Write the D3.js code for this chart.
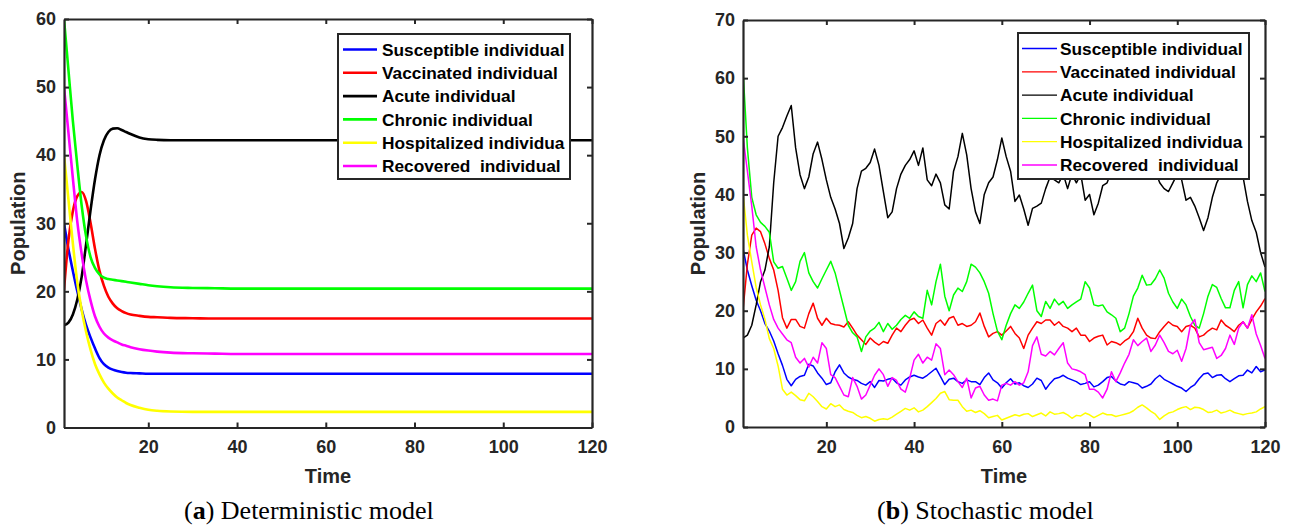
<!DOCTYPE html>
<html>
<head>
  <meta charset="utf-8">
  <title>Deterministic and stochastic model</title>
  <script src="https://d3js.org/d3.v7.min.js"></script>
  <style>
    body { margin: 0; background: #fff; }
    text { font-family: "Liberation Sans", Arial, sans-serif; fill: #262626; }
    .tick text { font-weight: bold; font-size: 18px; }
    .lab { font-weight: bold; font-size: 20px; }
    .leg { font-weight: bold; font-size: 17.3px; fill: #000; white-space: pre; }
    .cap { font-family: "Liberation Serif", "Times New Roman", serif; font-size: 26px; fill: #000; }
  </style>
</head>
<body>
<svg width="1289" height="525"></svg>
<script>
var names = ["Susceptible individual", "Vaccinated individual", "Acute individual",
             "Chronic individual", "Hospitalized individua", "Recovered  individual"];
var colors = ["#0000ff", "#ff0000", "#000000", "#00ff00", "#ffff00", "#ff00ff"];
var xTicks = [20, 40, 60, 80, 100, 120];
var yTicksA = [0, 10, 20, 30, 40, 50, 60];
var yTicksB = [0, 10, 20, 30, 40, 50, 60, 70];

// (a) deterministic model
var detT = [1, 2, 3, 4, 5, 6, 7, 8, 9, 10, 11, 12, 13, 14, 15, 16, 18, 20, 22, 25, 30, 35, 40, 50, 60, 80, 100, 120];
var detSus = [30, 26.2, 23, 20, 17.3, 15, 13.2, 11.6, 10.2, 9.3, 8.8, 8.5, 8.3, 8.15, 8.05, 8.0, 7.95, 7.9, 7.9, 7.9, 7.9, 7.9, 7.9, 7.9, 7.9, 7.9, 7.9, 7.9];
var detVac = [20.2, 27.5, 31.8, 34, 34.6, 33.2, 30, 26.2, 23, 20.8, 19.2, 18.2, 17.5, 17.1, 16.8, 16.6, 16.4, 16.25, 16.2, 16.1, 16.05, 16, 16, 16, 16, 16, 16, 16];
var detAcu = [15, 15.4, 16.6, 18.8, 22.2, 27, 32, 36.5, 40, 42.2, 43.4, 43.9, 43.95, 43.7, 43.4, 43.1, 42.6, 42.35, 42.25, 42.2, 42.2, 42.2, 42.2, 42.2, 42.2, 42.2, 42.2, 42.2];
var detChr = [60, 52.5, 45, 38.5, 32.5, 28, 25, 23.4, 22.5, 22, 21.8, 21.7, 21.6, 21.5, 21.4, 21.3, 21.1, 20.9, 20.75, 20.6, 20.5, 20.45, 20.4, 20.4, 20.4, 20.4, 20.4, 20.4];
var detHos = [40, 33.5, 27, 21.3, 17.2, 14, 11.4, 9.3, 7.8, 6.6, 5.7, 5.0, 4.4, 4.0, 3.6, 3.3, 2.9, 2.6, 2.45, 2.35, 2.3, 2.3, 2.3, 2.3, 2.3, 2.3, 2.3, 2.3];
var detRec = [50, 43.3, 36.6, 30.2, 25.4, 21.5, 18.6, 16.3, 14.8, 13.8, 13.2, 12.8, 12.5, 12.2, 12.0, 11.8, 11.5, 11.3, 11.15, 11.0, 10.9, 10.85, 10.8, 10.8, 10.8, 10.8, 10.8, 10.8];

// (b) stochastic model, one value per time step 1..120
var stT = d3.range(1, 121);
var stSus = [30.7, 27, 24.3, 21.8, 20, 17.8, 16.5, 14.8, 12.6, 10.6,
  8.2, 7.1, 8.2, 8.7, 8.9, 10.8, 10.5, 9.3, 8.4, 7.3,
  7.6, 9.5, 10.7, 9.3, 8.6, 8.2, 8, 7.5, 7.2, 7.8,
  6.8, 8, 7.9, 8.2, 8.4, 7.6, 7.2, 8.1, 8.6, 8.9,
  8.6, 8.4, 8.9, 9.5, 10.1, 8.7, 7.3, 8.2, 8.4, 7.8,
  7.5, 8.1, 7.8, 7.8, 7.3, 8.5, 9.3, 8.1, 7.6, 6.7,
  7.6, 8.3, 7.4, 7.6, 7.1, 6.8, 7.4, 8.4, 8, 6.5,
  7.5, 8.3, 8.5, 8.9, 8.4, 8.1, 7.8, 7.3, 7.5, 7.8,
  6.9, 7.2, 7.8, 8.5, 8.7, 7.9, 7.4, 7.2, 7.8, 7.6,
  7.4, 6.7, 7, 7.4, 8.3, 8.9, 8.2, 7.8, 7.4, 7,
  6.7, 6.1, 6.8, 7.3, 8.3, 9.1, 9.3, 8.5, 8.9, 9,
  8.3, 7.8, 8.3, 8.8, 8.9, 9.8, 9.3, 10.4, 9.5, 9.8];
var stVac = [20.1, 28, 33, 34.2, 33.6, 31.5, 29, 27, 23.5, 18.8,
  17, 18.5, 18.5, 17.3, 17, 19.5, 21.3, 18.7, 17.5, 18.7,
  17.8, 17.6, 17.5, 17.2, 18.1, 17, 15.8, 15, 14.2, 15.3,
  14.6, 14.1, 14.7, 14.4, 15.8, 17, 16.4, 17.5, 18.4, 18.7,
  17.8, 18.4, 17, 15.8, 17.8, 18.4, 17.5, 18.7, 19, 17.5,
  17.8, 17.3, 17.5, 18.1, 19.6, 17.3, 15.5, 16.1, 16.4, 15.8,
  16.5, 17.3, 16.1, 15.3, 13.5, 15.8, 17, 18.1, 17.8, 18.4,
  18.4, 17.5, 18.1, 17.3, 17, 16.4, 17, 15.8, 15.8, 14.7,
  15.3, 15.6, 15.8, 14.1, 14.7, 14.5, 14.1, 14.8, 15.3, 16.4,
  18.7, 17, 15.8, 15.3, 15.2, 16.4, 17.3, 18.1, 17.5, 17.3,
  16.4, 17.3, 17.5, 17, 15.5, 15.8, 16.5, 17, 16.7, 18.4,
  17.5, 17, 16.4, 17.5, 18.1, 17, 18.5, 19.8, 20.8, 22.1];
var stAcu = [15.3, 15.8, 17.5, 21, 25, 27, 31, 42, 50, 51.5,
  53.5, 55.3, 48, 43.4, 41, 43, 47, 49, 46, 42.5,
  39.5, 37.5, 35, 30.7, 32.5, 35, 41, 44, 44.5, 45.5,
  47.8, 45, 40.5, 36, 37, 41, 43.5, 45, 46, 47.5,
  45, 48, 42.5, 41.5, 43.5, 42, 38.2, 37.5, 44, 46.5,
  50.5, 46.8, 41, 37, 35, 40, 42, 43, 46, 49.7,
  46.5, 44, 38.8, 39.9, 37.5, 34.7, 37.6, 38, 38.5, 41,
  43, 42.5, 42, 43.5, 41, 43.5, 42, 43.5, 39, 40,
  36.5, 38.5, 41.5, 42, 44, 46, 47, 45.5, 47, 48,
  46, 47.5, 45, 46.5, 44, 42, 41, 40.5, 42, 43.5,
  42.5, 39, 39.5, 38, 36, 33.8, 36, 39.5, 42, 43.5,
  45, 46, 44.5, 45.5, 43, 38.8, 35.5, 33.5, 30, 27.5];
var stChr = [61.4, 48, 39.5, 36.5, 35.2, 34.5, 33.5, 28.4, 27.3, 27.6,
  25.6, 23.5, 25, 28.5, 30, 26.5, 25, 23.9, 25.5, 27,
  28.5, 26.5, 23.5, 20.5, 17.5, 16.2, 15.5, 13, 15.5, 16.5,
  17, 18, 16.4, 17.8, 16.8, 17.5, 18.5, 19.2, 18.7, 19.8,
  19, 18.7, 23.5, 21, 25, 28, 22.5, 20, 22.7, 23.9,
  23.3, 25, 28, 27.5, 26.5, 25, 23, 19.5, 16.5, 15,
  17.5, 19.5, 21, 20.4, 21.5, 23, 24.4, 20, 19, 21.6,
  20.4, 22, 21, 21.6, 20.4, 21, 21.5, 22, 25, 23.9,
  21, 20.8, 21, 19.8, 19.3, 18.7, 16.4, 17, 19.5, 22.5,
  23.9, 26.1, 24.4, 24.5, 25.5, 27, 25.6, 23, 21.5, 20.4,
  22, 21, 19, 17.5, 17, 19.5, 22.5, 24.5, 24, 22.1,
  20.5, 20.5, 23.5, 25, 20.5, 24.5, 26, 25, 26.5, 23.3];
var stHos = [40.2, 33, 28.4, 24, 21, 18.5, 15.2, 13.5, 10.5, 6.5,
  5.5, 6, 5.4, 4.7, 4.5, 5.8, 5.2, 4.4, 3.5, 3.1,
  4, 3.5, 3.8, 3, 2.7, 2.5, 2, 1.6, 1.8, 1.5,
  1, 1.3, 1.4, 1.3, 1.7, 2.2, 2.7, 3.2, 2.9, 3.3,
  2.6, 2.9, 3.5, 4.2, 4.9, 5.8, 6.1, 4.7, 4.6, 4.6,
  3.5, 2.7, 2.9, 2.5, 2.8, 2.3, 1.6, 1.8, 2, 1.2,
  1.5, 1.8, 2.1, 1.9, 2.2, 2.3, 1.8, 2.1, 2.4, 1.9,
  2.6, 2.2, 2.3, 2.5, 2.1, 1.5, 2, 1.9, 2.4, 2.1,
  1.6, 2, 2.4, 2.1, 2.1, 1.8, 2, 2.2, 2.4, 2.8,
  3.4, 3.8, 3.3, 2.7, 2.2, 1.3, 1.9, 2.4, 2.6, 3,
  3.3, 3.5, 3, 3.4, 3.3, 3, 2.5, 2.6, 2.9, 2.4,
  2.6, 2.9, 2.5, 2.3, 2.1, 2.3, 2.4, 2.6, 3.1, 3.5];
var stRec = [50, 44, 38, 31, 27, 24, 21, 18.5, 17, 16,
  15, 14.5, 12, 11, 11.8, 10.3, 12, 11, 14.5, 13.5,
  9, 8.5, 7, 5.5, 5.2, 8.5, 7, 4.8, 5.5, 7.2,
  8.9, 10, 9, 7, 8.5, 8, 6.5, 6, 8.4, 11.5,
  12.5, 11, 12, 11.5, 14.3, 13.5, 9, 9.8, 9, 7.8,
  6.8, 8.4, 5, 6.7, 7, 5.5, 4.6, 4.8, 4.5, 7.2,
  7.5, 7.2, 7.8, 7.2, 7.6, 9.5, 14, 15.5, 12.5, 12.2,
  13, 12.4, 13.5, 14.5, 11, 10, 9.8, 9.5, 9, 6.5,
  6.5, 6, 5, 6.5, 9.5, 7.8, 9.3, 11, 12.5, 15,
  14, 14.7, 15.3, 13, 14.1, 15.8, 14.5, 13, 12.6, 13.2,
  11.3, 13.5, 17.5, 18.5, 14.5, 13.3, 13.5, 13.7, 11.8, 12.3,
  13.5, 15.8, 14.2, 17, 18.1, 17, 19.3, 16, 14, 11.8];

var svg = d3.select("svg");
svg.append("rect").attr("width", 1289).attr("height", 525).attr("fill", "#fff");

function panel(o) {
  var x = d3.scaleLinear().domain([1, 120]).range([o.left, o.right]);
  var y = d3.scaleLinear().domain([0, o.ymax]).range([o.bottom, o.top]);
  var g = svg.append("g");

  g.append("clipPath").attr("id", "clip" + o.id)
    .append("rect").attr("x", o.left).attr("y", o.top)
    .attr("width", o.right - o.left).attr("height", o.bottom - o.top);

  var line = d3.line()
    .x(function(d) { return x(d[0]); })
    .y(function(d) { return y(d[1]); })
    .curve(o.curve);

  var lines = g.append("g").attr("clip-path", "url(#clip" + o.id + ")");
  o.series.forEach(function(s, i) {
    lines.append("path")
      .datum(o.t.map(function(tt, k) { return [tt, s[k]]; }))
      .attr("d", line)
      .attr("fill", "none")
      .attr("stroke", colors[i])
      .attr("stroke-width", o.lw)
      .attr("stroke-linejoin", "round");
  });

  // box with inward ticks on all four sides
  var axes = [
    [d3.axisBottom(x).tickValues(xTicks).tickPadding(13), "translate(0," + o.bottom + ")"],
    [d3.axisTop(x).tickValues(xTicks).tickFormat(""), "translate(0," + o.top + ")"],
    [d3.axisLeft(y).tickValues(o.yTicks).tickPadding(8), "translate(" + o.left + ",0)"],
    [d3.axisRight(y).tickValues(o.yTicks).tickFormat(""), "translate(" + o.right + ",0)"]
  ];
  axes.forEach(function(a) {
    var ax = g.append("g").attr("transform", a[1])
      .call(a[0].tickSizeInner(-5).tickSizeOuter(0));
    ax.select(".domain").attr("stroke", "#262626").attr("stroke-width", 2.2);
    ax.selectAll(".tick line").attr("stroke", "#262626").attr("stroke-width", 2);
    ax.selectAll(".tick text").attr("fill", "#262626");
  });

  g.append("text").attr("class", "lab")
    .attr("x", (o.left + o.right) / 2).attr("y", 483)
    .attr("text-anchor", "middle").text("Time");
  g.append("text").attr("class", "lab")
    .attr("transform", "translate(" + o.ylabX + "," + (o.top + o.bottom) / 2 + ") rotate(-90)")
    .attr("text-anchor", "middle").text("Population");

  // legend
  var L = o.legend;
  var lg = g.append("g");
  lg.append("rect").attr("x", L.x).attr("y", L.y).attr("width", L.w).attr("height", L.h)
    .attr("fill", "#fff").attr("stroke", "#262626").attr("stroke-width", 2);
  names.forEach(function(n, i) {
    var yy = L.y + 15.5 + i * 23.3;
    lg.append("line").attr("x1", L.x + L.l1).attr("x2", L.x + L.l2)
      .attr("y1", yy).attr("y2", yy)
      .attr("stroke", colors[i]).attr("stroke-width", L.lw);
    lg.append("text").attr("class", "leg")
      .attr("x", L.x + L.tx).attr("y", yy).attr("dy", "0.36em")
      .text(n);
  });

  var cap = g.append("text").attr("class", "cap")
    .attr("x", o.capX).attr("y", 519);
  cap.append("tspan").text("(");
  cap.append("tspan").attr("font-weight", "bold").text(o.capL);
  cap.append("tspan").text(") " + o.capT);
}

panel({
  id: "a", left: 64, right: 592, top: 19, bottom: 427.5, ymax: 60, yTicks: yTicksA,
  t: detT, series: [detSus, detVac, detAcu, detChr, detHos, detRec],
  curve: d3.curveMonotoneX, lw: 2.6, ylabX: 25,
  legend: { x: 338, y: 34, w: 232, h: 145, l1: 5, l2: 39, tx: 44, lw: 2.6 },
  capX: 184, capL: "a", capT: "Deterministic model"
});

panel({
  id: "b", left: 743, right: 1265, top: 20, bottom: 427, ymax: 70, yTicks: yTicksB,
  t: stT, series: [stSus, stVac, stAcu, stChr, stHos, stRec],
  curve: d3.curveLinear, lw: 1.5, ylabX: 705,
  legend: { x: 1018, y: 33, w: 231, h: 146, l1: 4, l2: 39, tx: 42, lw: 1.3 },
  capX: 877, capL: "b", capT: "Stochastic model"
});
</script>
</body>
</html>
